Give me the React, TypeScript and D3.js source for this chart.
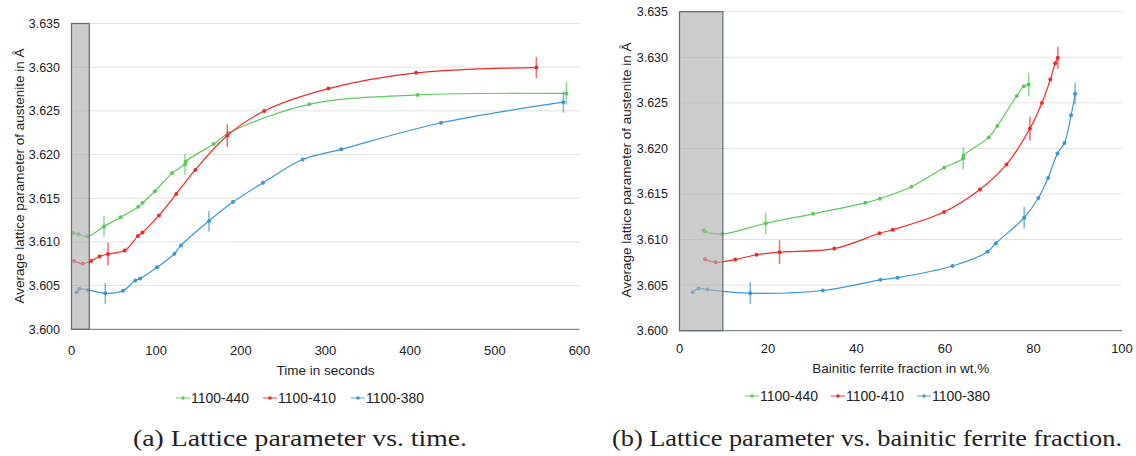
import React from "react";
import * as d3 from "d3";

// ---- data ----
const seriesNames = ["1100-440", "1100-410", "1100-380"];
const seriesColors = ["#5cc95a", "#ee2b25", "#3a97d6"];

const timeGreen = [2.1, 8.5, 18.7, 38.4, 58, 79, 84, 98.6, 118.8, 134, 135, 167.9, 185.6, 280.8, 408.7, 584.6];
const timeRed = [3, 13.2, 23, 33.3, 43.1, 62.8, 78.5, 83.8, 103.3, 123.7, 146.2, 184, 227.6, 303.6, 407, 549];
const timeBlue = [6.1, 9.2, 19.1, 39.9, 60.8, 75.3, 81.1, 101.2, 121.6, 129.3, 162.4, 190.7, 226.1, 273, 318.5, 436.6, 581];

const fracGreen = [5.4, 5.8, 9.6, 19.5, 30.2, 42, 45.3, 52.4, 59.8, 64.1, 64.2, 69.9, 71.8, 76.2, 77.8, 78.9];
const fracRed = [5.8, 8.2, 12.6, 17.4, 22.6, 35, 45.2, 48.2, 59.8, 67.9, 73.9, 79.2, 81.9, 83.8, 84.9, 85.5];
const fracBlue = [3, 4.3, 6.3, 16, 32.4, 45.4, 49.3, 61.7, 69.6, 71.5, 77.9, 81.1, 83.3, 85.4, 87, 88.5, 89.4];

const latGreen = [3.61102, 3.61088, 3.61061, 3.61178, 3.61282, 3.61403, 3.61448, 3.6158, 3.61788, 3.6189, 3.6192, 3.62121, 3.62246, 3.62575, 3.62682, 3.6270];
const latRed = [3.60783, 3.60751, 3.60781, 3.60833, 3.60862, 3.60901, 3.61069, 3.61108, 3.61303, 3.61549, 3.61824, 3.62218, 3.62499, 3.62755, 3.62935, 3.62995];
const latBlue = [3.60423, 3.60464, 3.60451, 3.60412, 3.60441, 3.60558, 3.60582, 3.6071, 3.60865, 3.6096, 3.6124, 3.61456, 3.61676, 3.61943, 3.6206, 3.62364, 3.6260];

const errGreen = [0, 0, 0, 0.0012, 0, 0, 0, 0, 0, 0.0012, 0, 0, 0, 0, 0, 0.0013];
const errRed = [0, 0, 0, 0, 0.0013, 0, 0, 0, 0, 0, 0, 0.0013, 0, 0, 0, 0.0012];
const errBlue = [0, 0, 0, 0.0012, 0, 0, 0, 0, 0, 0, 0.0012, 0, 0, 0, 0, 0, 0.0012];

const yTicks = [3.6, 3.605, 3.61, 3.615, 3.62, 3.625, 3.63, 3.635];
const timeTicks = [0, 100, 200, 300, 400, 500, 600];
const fracTicks = [0, 20, 40, 60, 80, 100];
const shadeTime = [0, 21];
const shadeFrac = [0, 9.8];

type ChartProps = {
  xs: number[][];
  xDomain: [number, number];
  xTicks: number[];
  shade: number[];
  left: number;
  right: number;
  top: number;
  bottom: number;
  yLabelRight: number;
  yTitleX: number;
  yTitleY: number;
  xTitle: string;
  xTitleY: number;
  xTickY: number;
  legendX: number[];
  legendY: number;
  caption: string;
  captionX: number;
  captionLen: number;
};

const SANS = "'Liberation Sans', Arial, sans-serif";

function Chart(p: ChartProps) {
  const x = d3.scaleLinear().domain(p.xDomain).range([p.left, p.right]);
  const y = d3.scaleLinear().domain([3.6, 3.635]).range([p.bottom, p.top]);
  const lats = [latGreen, latRed, latBlue];
  const errs = [errGreen, errRed, errBlue];
  const line = d3
    .line<[number, number]>()
    .x((d) => x(d[0]))
    .y((d) => y(d[1]))
    .curve(d3.curveCatmullRom.alpha(0.5));
  const fmt = d3.format(".3f");
  return (
    <g>
      {yTicks.map((t) => (
        <g key={t}>
          <line
            x1={p.left}
            x2={p.right}
            y1={y(t)}
            y2={y(t)}
            stroke={t === 3.6 ? "#8a8a8a" : "#e2e2e2"}
            strokeWidth={t === 3.6 ? 1.2 : 1}
          />
          <text
            x={p.yLabelRight}
            y={y(t)}
            dy="0.35em"
            textAnchor="end"
            fontFamily={SANS}
            fontSize={12.5}
            fill="#222"
          >
            {fmt(t)}
          </text>
        </g>
      ))}
      {p.xTicks.map((t) => (
        <text
          key={t}
          x={x(t)}
          y={p.xTickY}
          textAnchor="middle"
          fontFamily={SANS}
          fontSize={13}
          fill="#222"
        >
          {t}
        </text>
      ))}
      {p.xs.map((xs, si) => {
        const pts: [number, number][] = xs.map((v, i) => [v, lats[si][i]]);
        return (
          <g key={si}>
            <path d={line(pts) || ""} fill="none" stroke={seriesColors[si]} strokeWidth={1.2} />
            {pts.map((d, i) => (
              <circle key={i} cx={x(d[0])} cy={y(d[1])} r={2} fill={seriesColors[si]} />
            ))}
            {pts.map((d, i) =>
              errs[si][i] > 0 ? (
                <line
                  key={"e" + i}
                  x1={x(d[0])}
                  x2={x(d[0])}
                  y1={y(d[1] - errs[si][i])}
                  y2={y(d[1] + errs[si][i])}
                  stroke={seriesColors[si]}
                  strokeOpacity={0.7}
                  strokeWidth={1.5}
                />
              ) : null
            )}
          </g>
        );
      })}
      <rect
        x={x(p.shade[0])}
        y={p.top}
        width={x(p.shade[1]) - x(p.shade[0])}
        height={p.bottom - p.top}
        fill="#b0b0b0"
        fillOpacity={0.65}
        stroke="#5b6a77"
        strokeWidth={1.2}
      />
      <text
        transform={`translate(${p.yTitleX},${p.yTitleY}) rotate(-90)`}
        textAnchor="middle"
        dy="0.35em"
        fontFamily={SANS}
        fontSize={13.5}
        fill="#222"
      >
        Average lattice parameter of austenite in Å
      </text>
      <text
        x={(p.left + p.right) / 2}
        y={p.xTitleY}
        textAnchor="middle"
        fontFamily={SANS}
        fontSize={13.5}
        fill="#222"
      >
        {p.xTitle}
      </text>
      {seriesNames.map((n, i) => (
        <g key={n} transform={`translate(${p.legendX[i]},${p.legendY})`}>
          <line x1={0} x2={14} y1={0} y2={0} stroke={seriesColors[i]} strokeOpacity={0.6} strokeWidth={1.5} />
          <circle cx={7} cy={0} r={1.8} fill={seriesColors[i]} />
          <text x={15} y={0} dy="0.35em" fontFamily={SANS} fontSize={14} fill="#222">
            {n}
          </text>
        </g>
      ))}
      <text
        x={p.captionX}
        y={446}
        fontFamily="'Liberation Serif', 'DejaVu Serif', serif"
        fontSize={24}
        fill="#222"
        textLength={p.captionLen}
        lengthAdjust="spacingAndGlyphs"
      >
        {p.caption}
      </text>
    </g>
  );
}

export default function App() {
  return (
    <svg
      width={1136}
      height={456}
      style={{ position: "absolute", left: 0, top: 0, background: "#fff" }}
    >
      <rect width={1136} height={456} fill="#fff" />
      <Chart
        xs={[timeGreen, timeRed, timeBlue]}
        xDomain={[0, 600]}
        xTicks={timeTicks}
        shade={shadeTime}
        left={71.5}
        right={579.5}
        top={23.5}
        bottom={329.3}
        yLabelRight={60}
        yTitleX={19}
        yTitleY={176}
        xTitle="Time in seconds"
        xTitleY={375}
        xTickY={355}
        legendX={[176, 263, 351]}
        legendY={398}
        caption="(a) Lattice parameter vs. time."
        captionX={133}
        captionLen={334}
      />
      <Chart
        xs={[fracGreen, fracRed, fracBlue]}
        xDomain={[0, 100]}
        xTicks={fracTicks}
        shade={shadeFrac}
        left={679.5}
        right={1122}
        top={11.7}
        bottom={330.7}
        yLabelRight={668}
        yTitleX={626}
        yTitleY={170}
        xTitle="Bainitic ferrite fraction in wt.%"
        xTitleY={373}
        xTickY={353}
        legendX={[745, 831, 917]}
        legendY={396}
        caption="(b) Lattice parameter vs. bainitic ferrite fraction."
        captionX={612}
        captionLen={510}
      />
    </svg>
  );
}
